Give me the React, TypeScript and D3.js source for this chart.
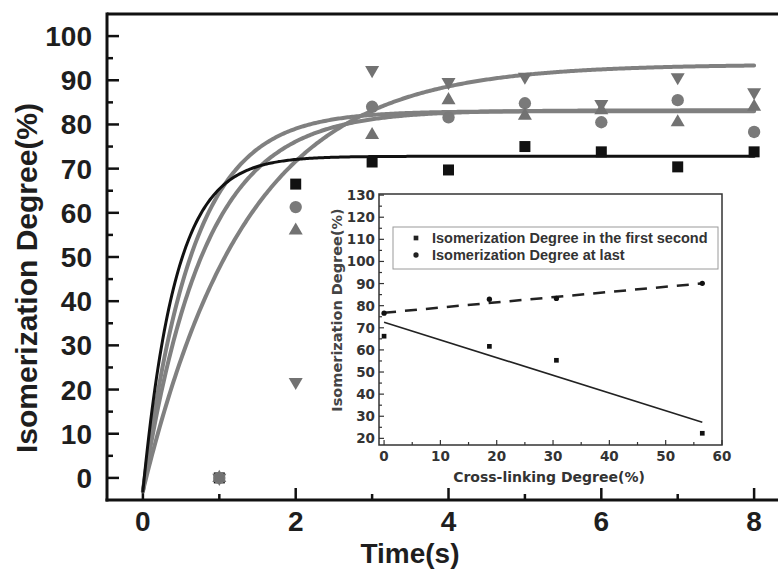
import React from 'react';
import * as d3 from 'd3';

// ---- Main chart data ----
const times = [1, 2, 3, 4, 5, 6, 7, 8];
const squareVals = [0, 66.5, 71.5, 69.7, 75.0, 73.8, 70.4, 73.8];
const circleVals = [0, 61.3, 84.0, 81.6, 84.8, 80.5, 85.5, 78.3];
const triUpVals = [0, 56.0, 77.6, 85.5, 82.0, 83.2, 80.5, 84.0];
const triDownVals = [0, 21.7, 92.3, 89.6, 90.8, 84.6, 90.7, 87.3];

// exponential fit parameters per series: square, circle, triangle up, triangle down
const fitPlateau = [72.8, 83.0, 83.2, 93.6];
const fitTau = [0.43, 0.65, 0.8, 1.35];
const fitStart = [-3, -3, -3, -3];

const xTicksMain = [0, 2, 4, 6, 8];
const xMinorMain = [1, 3, 5, 7];
const yTicksMain = [0, 10, 20, 30, 40, 50, 60, 70, 80, 90, 100];
const yMinorMain = [5, 15, 25, 35, 45, 55, 65, 75, 85, 95];

// ---- Inset data ----
const crossLink = [0, 18.7, 30.6, 56.5];
const firstSecond = [66.2, 61.6, 55.3, 22.3];
const atLast = [76.6, 82.9, 83.3, 90.1];
const linFirst = [72.5, -0.8]; // intercept, slope
const linLast = [76.8, 0.235];
const insetXTicks = [0, 10, 20, 30, 40, 50, 60];
const insetXMinor = [5, 15, 25, 35, 45, 55];
const insetYTicks = [20, 30, 40, 50, 60, 70, 80, 90, 100, 110, 120, 130];
const insetYMinor = [25, 35, 45, 55, 65, 75, 85, 95, 105, 115, 125];
const legendLabels = ['Isomerization Degree in the first second', 'Isomerization Degree at last'];

const W = 778;
const H = 570;

export default function App() {
  const x = d3.scaleLinear().domain([-0.47, 8.5]).range([107, 107 + 8.97 * 76.4]);
  const y = d3.scaleLinear().domain([-5, 105]).range([500, 14]);

  const ix = d3.scaleLinear().domain([-0.9, 60]).range([379, 722]);
  const iy = d3.scaleLinear().domain([17, 130.5]).range([445, 194]);

  const tSamples = d3.range(0, 8.0001, 0.02);
  const fitLine = (i: number) => {
    const P = fitPlateau[i], tau = fitTau[i], y0 = fitStart[i];
    return d3
      .line<number>()
      .x((t) => x(t))
      .y((t) => y(P - (P - y0) * Math.exp(-t / tau)))(tSamples) as string;
  };

  const sq = d3.symbol().type(d3.symbolSquare).size(121)() as string;
  const circ = d3.symbol().type(d3.symbolCircle).size(120)() as string;
  const tri = d3.symbol().type(d3.symbolTriangle).size(85)() as string;

  const sqS = d3.symbol().type(d3.symbolSquare).size(22)() as string;
  const circS = d3.symbol().type(d3.symbolCircle).size(22)() as string;

  const mainFont = "'Liberation Sans', Arial, sans-serif";
  const insetFont = "'DejaVu Sans', sans-serif";
  const textCol = '#1e1e1e';
  const grayCurve = '#808080';
  const grayMark = '#727272';

  const linePts = (p: number[]) => [
    [0, p[0]],
    [56.5, p[0] + p[1] * 56.5],
  ];
  const lin = d3
    .line<number[]>()
    .x((d) => ix(d[0]))
    .y((d) => iy(d[1]));

  return (
    <svg width={W} height={H} style={{ position: 'fixed', left: 0, top: 0, background: '#fff' }}>
      <rect x={0} y={0} width={W} height={H} fill="#fff" />

      {/* main frame */}
      <g stroke="#111" strokeWidth={3} fill="none">
        <line x1={107} y1={14} x2={800} y2={14} />
        <line x1={107} y1={12.5} x2={107} y2={501.5} />
        <line x1={105.5} y1={500} x2={800} y2={500} />
      </g>
      {/* ticks */}
      <g stroke="#111" strokeWidth={2.5}>
        {yTicksMain.map((v) => (
          <line key={'yt' + v} x1={107} x2={119} y1={y(v)} y2={y(v)} />
        ))}
        {yMinorMain.map((v) => (
          <line key={'ym' + v} x1={107} x2={113} y1={y(v)} y2={y(v)} />
        ))}
        {xTicksMain.map((v) => (
          <line key={'xt' + v} x1={x(v)} x2={x(v)} y1={500} y2={488} />
        ))}
        {xMinorMain.map((v) => (
          <line key={'xm' + v} x1={x(v)} x2={x(v)} y1={500} y2={494} />
        ))}
      </g>
      <g fontFamily={mainFont} fontWeight="bold" fontSize={28} fill={textCol}>
        {yTicksMain.map((v) => (
          <text key={'yl' + v} x={92} y={y(v) + 10} textAnchor="end">
            {v}
          </text>
        ))}
        {xTicksMain.map((v) => (
          <text key={'xl' + v} x={x(v)} y={531} textAnchor="middle">
            {v}
          </text>
        ))}
        <text x={410} y={563} textAnchor="middle" fontSize={28}>
          Time(s)
        </text>
        <text transform="translate(37,278) rotate(-90)" textAnchor="middle" fontSize={30}>
          Isomerization Degree(%)
        </text>
      </g>

      {/* fit curves */}
      <g fill="none" strokeLinecap="round">
        <path d={fitLine(3)} stroke={grayCurve} strokeWidth={4} />
        <path d={fitLine(2)} stroke={grayCurve} strokeWidth={4} />
        <path d={fitLine(1)} stroke={grayCurve} strokeWidth={4} />
        <path d={fitLine(0)} stroke="#111" strokeWidth={3} />
      </g>

      {/* markers */}
      <g>
        {times.map((t, i) => (
          <path key={'s' + i} d={sq} transform={`translate(${x(t)},${y(squareVals[i])})`} fill="#111" />
        ))}
        {times.map((t, i) => (
          <path key={'c' + i} d={circ} transform={`translate(${x(t)},${y(circleVals[i])})`} fill="#7a7a7a" />
        ))}
        {times.map((t, i) => (
          <path key={'u' + i} d={tri} transform={`translate(${x(t)},${y(triUpVals[i])})`} fill={grayMark} />
        ))}
        {times.map((t, i) => (
          <path
            key={'d' + i}
            d={tri}
            transform={`translate(${x(t)},${y(triDownVals[i])}) rotate(180)`}
            fill={grayMark}
          />
        ))}
      </g>

      {/* inset */}
      <rect x={379} y={194} width={343} height={251} fill="#fff" stroke="#333" strokeWidth={1.5} />
      <g stroke="#333" strokeWidth={1.2}>
        {insetYTicks.map((v) => (
          <line key={'iyt' + v} x1={379} x2={384} y1={iy(v)} y2={iy(v)} />
        ))}
        {insetYMinor.map((v) => (
          <line key={'iym' + v} x1={379} x2={382} y1={iy(v)} y2={iy(v)} />
        ))}
        {insetXTicks.map((v) => (
          <line key={'ixt' + v} x1={ix(v)} x2={ix(v)} y1={445} y2={440} />
        ))}
        {insetXMinor.map((v) => (
          <line key={'ixm' + v} x1={ix(v)} x2={ix(v)} y1={445} y2={442} />
        ))}
      </g>
      <g fontFamily={insetFont} fontWeight="bold" fontSize={13.5} fill="#333">
        {insetYTicks.map((v) => (
          <text key={'iyl' + v} x={375} y={iy(v) + 5} textAnchor="end">
            {v}
          </text>
        ))}
        {insetXTicks.map((v) => (
          <text key={'ixl' + v} x={ix(v)} y={461} textAnchor="middle">
            {v}
          </text>
        ))}
        <text x={549} y={482} textAnchor="middle" fontSize={14}>
          Cross-linking Degree(%)
        </text>
        <text transform="translate(342,310) rotate(-90)" textAnchor="middle" fontSize={14.5} fill="#444">
          Isomerization Degree(%)
        </text>
      </g>

      {/* legend */}
      <rect x={393} y={227} width={325} height={42} fill="none" stroke="#9a9a9a" strokeWidth={1} />
      <path d={sqS} transform="translate(416,238)" fill="#222" />
      <path d={circS} transform="translate(416,255)" fill="#222" />
      <g fontFamily={mainFont} fontWeight="bold" fontSize={14.5} fill="#333">
        <text x={432} y={243}>{legendLabels[0]}</text>
        <text x={432} y={260}>{legendLabels[1]}</text>
      </g>

      {/* inset fit lines */}
      <path d={lin(linePts(linFirst) as number[][]) as string} stroke="#222" strokeWidth={1.6} fill="none" />
      <path
        d={lin(linePts(linLast) as number[][]) as string}
        stroke="#222"
        strokeWidth={2.5}
        strokeDasharray="12,9"
        fill="none"
      />

      {/* inset points */}
      {crossLink.map((c, i) => (
        <path key={'if' + i} d={sqS} transform={`translate(${ix(c)},${iy(firstSecond[i])})`} fill="#111" />
      ))}
      {crossLink.map((c, i) => (
        <path key={'il' + i} d={circS} transform={`translate(${ix(c)},${iy(atLast[i])})`} fill="#111" />
      ))}
    </svg>
  );
}
